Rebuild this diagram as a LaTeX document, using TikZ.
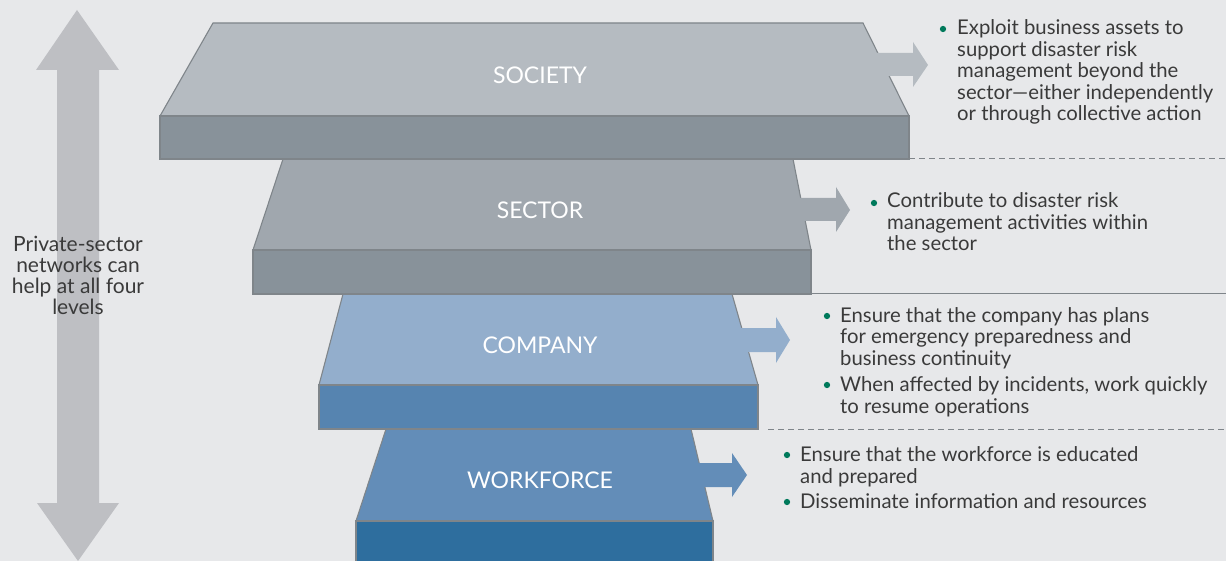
\documentclass[tikz,border=0pt]{standalone}
\usepackage{fontspec}
\setmainfont{Lato}
\usetikzlibrary{positioning}

\definecolor{bggrey}{HTML}{E7E8EA}
\definecolor{edgegrey}{HTML}{7F858A}
\definecolor{sideGrey}{HTML}{BEBFC3}
\definecolor{socTop}{HTML}{B5BBC1}
\definecolor{socFront}{HTML}{88929A}
\definecolor{secTop}{HTML}{A0A7AE}
\definecolor{secFront}{HTML}{88929A}
\definecolor{comTop}{HTML}{93AECC}
\definecolor{comFront}{HTML}{5684B0}
\definecolor{wrkTop}{HTML}{638DB8}
\definecolor{wrkFront}{HTML}{2E6E9E}
\definecolor{dotgreen}{HTML}{00795B}
\definecolor{textgrey}{HTML}{3A3A3A}

\begin{document}
\begin{tikzpicture}[x=1pt,y=1pt,
  slabline/.style={draw=edgegrey, line width=1.1pt},
  levellabel/.style={text=white, font=\fontsize{23}{25}\selectfont},
  itemtext/.style={anchor=base west, align=left, text=textgrey, font=\fontsize{20.3}{21.5}\selectfont},
  greendot/.style={circle, fill=dotgreen, minimum size=6.3pt}]
\tikzstyle{every node}+=[inner sep=0pt]
\fill [bggrey] (0,0) rectangle (1226,-561);
\useasboundingbox (0,0) rectangle (1226,-561);
% side arrow
\fill [sideGrey] (77,-10) -- (119,-70) -- (99,-70) -- (99,-503) -- (119,-503) -- (78,-561) -- (37,-503) -- (57,-503) -- (57,-70) -- (36,-70) -- cycle;
\node [align=center, text=textgrey, font=\fontsize{21}{21}\selectfont, anchor=base] (networks) at (78,-315) {Private-sector\\networks can\\help at all four\\levels};
% workforce
\draw [slabline, fill=wrkTop] (386,-429) -- (691,-429) -- (713,-521) -- (356,-521) -- cycle;
\draw [slabline, fill=wrkFront] (356,-521) rectangle (713,-566);
\fill [wrkTop] (695,-463) -- (732,-463) -- (732,-453) -- (747,-475) -- (732,-497) -- (732,-487) -- (695,-487) -- cycle;
\node [levellabel] (workforce) at (540,-480) {WORKFORCE};
% company
\draw [slabline, fill=comTop] (343,-294) -- (732,-294) -- (758,-385) -- (319,-385) -- cycle;
\draw [slabline, fill=comFront] (319,-385) rectangle (758,-429);
\fill [comTop] (737,-328) -- (776,-328) -- (776,-317) -- (790,-340) -- (776,-363) -- (776,-352) -- (737,-352) -- cycle;
\node [levellabel] (company) at (540,-345) {COMPANY};
% sector
\draw [slabline, fill=secTop] (283,-159) -- (793,-159) -- (811,-250) -- (253,-250) -- cycle;
\draw [slabline, fill=secFront] (253,-250) rectangle (811,-294);
\fill [secTop] (795,-198) -- (836,-198) -- (836,-187) -- (850,-210) -- (836,-232) -- (836,-221) -- (795,-221) -- cycle;
\node [levellabel] (sector) at (540,-210) {SECTOR};
% society
\draw [slabline, fill=socTop] (213,-23) -- (863,-23) -- (909,-116) -- (160,-116) -- cycle;
\draw [slabline, fill=socFront] (160,-116) rectangle (909,-159);
\fill [socTop] (870,-53) -- (913,-53) -- (913,-42) -- (928,-65) -- (913,-87) -- (913,-76) -- (870,-76) -- cycle;
\node [levellabel] (society) at (540,-75) {SOCIETY};
% separators
\draw [edgegrey, line width=1pt, dash pattern=on 6pt off 4pt] (909,-159) -- (1226,-159);
\draw [edgegrey, line width=1pt] (811,-294) -- (1226,-294);
\draw [edgegrey, line width=1pt, dash pattern=on 6pt off 4pt] (768,-429) -- (1226,-429);
% items (anchored at the baseline of their last line)
\node [greendot] (dotsoc) at (943,-29) {};
\node [itemtext] (itemsoc) at (957,-121) {Exploit business assets to\\support disaster risk\\management beyond the\\sector---either independently\\or through collective action};
\node [greendot] (dotsec) at (874,-203) {};
\node [itemtext] (itemsec) at (887,-251) {Contribute to disaster risk\\management activities within\\the sector};
\node [greendot] (dotcomA) at (827,-316) {};
\node [itemtext] (itemcomA) at (840,-365) {Ensure that the company has plans\\for emergency preparedness and\\business continuity};
\node [greendot] (dotcomB) at (827,-385) {};
\node [itemtext] (itemcomB) at (840,-413) {When affected by incidents, work quickly\\to resume operations};
\node [greendot] (dotwrkA) at (787,-455) {};
\node [itemtext] (itemwrkA) at (800,-483) {Ensure that the workforce is educated\\and prepared};
\node [greendot] (dotwrkB) at (787,-502) {};
\node [itemtext] (itemwrkB) at (800,-508) {Disseminate information and resources};
\end{tikzpicture}
\end{document}
